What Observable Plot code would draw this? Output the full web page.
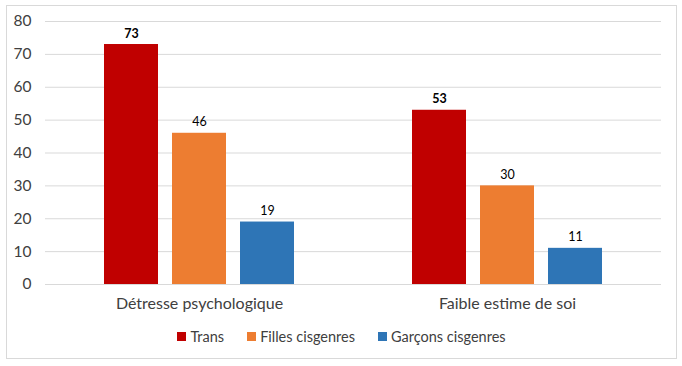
<!DOCTYPE html>
<html>
<head>
<meta charset="utf-8">
<script src="https://cdn.jsdelivr.net/npm/d3@7"></script>
<script src="https://cdn.jsdelivr.net/npm/@observablehq/plot@0.6"></script>
<style>
  html, body { margin: 0; padding: 0; background: #fff; }
  #frame {
    position: absolute; left: 6px; top: 5px; width: 669px; height: 352px;
    border: 1px solid #d9d9d9; background: #fff;
    font-family: Lato, "Open Sans", sans-serif;
  }
  #legend {
    position: absolute; left: 0; right: 0; top: 322px;
    display: flex; justify-content: center; gap: 23px;
    font-size: 14.5px; color: #404040;
  }
  #legend .item { display: flex; align-items: center; gap: 4px; }
  #legend .sw { width: 9px; height: 9px; display: inline-block; }
</style>
</head>
<body>
<div id="frame">
  <div id="chart"></div>
  <div id="legend"></div>
</div>
<script>
const categories = ["Détresse psychologique", "Faible estime de soi"];
const series = ["Trans", "Filles cisgenres", "Garçons cisgenres"];
const colors = ["#C00000", "#ED7D31", "#2E75B6"];
const trans = [73, 53];
const filles = [46, 30];
const garcons = [19, 11];
const yTicks = [0, 10, 20, 30, 40, 50, 60, 70, 80];

const valuesBySeries = [trans, filles, garcons];
const data = [];
categories.forEach((c, i) => {
  series.forEach((s, j) => {
    data.push({category: c, series: s, value: valuesBySeries[j][i]});
  });
});

const chart = Plot.plot({
  width: 669,
  height: 309,
  marginTop: 15,
  marginLeft: 38,
  marginRight: 15,
  marginBottom: 31,
  style: {fontFamily: "Lato, 'Open Sans', sans-serif", color: "#404040", background: "#fff"},
  fx: {domain: categories, padding: 0, axis: "bottom", label: null, tickSize: 0, tickPadding: 13},
  x: {domain: series, axis: null, paddingInner: 0.21, paddingOuter: 0.85},
  y: {domain: [0, 80], ticks: yTicks, tickSize: 0, tickPadding: 14, label: null, grid: false},
  color: {domain: series, range: colors},
  marks: [
    Plot.ruleY(yTicks, {stroke: "#d9d9d9", strokeWidth: 1}),
    Plot.barY(data, {fx: "category", x: "series", y: "value", fill: "series"}),
    Plot.text(data.filter(d => d.series === "Trans"), {fx: "category", x: "series", y: "value", text: d => String(d.value), lineAnchor: "bottom", dy: -7, fontSize: 12.5, fontWeight: "bold", fill: "#000"}),
    Plot.text(data.filter(d => d.series !== "Trans"), {fx: "category", x: "series", y: "value", text: d => String(d.value), lineAnchor: "bottom", dy: -7, fontSize: 12.5, fill: "#000"})
  ]
});
document.getElementById("chart").appendChild(chart);
chart.querySelectorAll("g[aria-label='y-axis tick label']").forEach(g => g.setAttribute("font-size", 15.5));
chart.querySelectorAll("g[aria-label='fx-axis tick label']").forEach(g => g.setAttribute("font-size", 16));

const legend = document.getElementById("legend");
series.forEach((s, i) => {
  const item = document.createElement("div");
  item.className = "item";
  const sw = document.createElement("span");
  sw.className = "sw";
  sw.style.background = colors[i];
  const lab = document.createElement("span");
  lab.textContent = s;
  item.appendChild(sw);
  item.appendChild(lab);
  legend.appendChild(item);
});
</script>
</body>
</html>
